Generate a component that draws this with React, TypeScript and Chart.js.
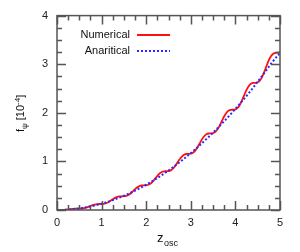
import React, { useEffect, useRef } from "react";
import { Chart, registerables } from "chart.js";

Chart.register(...registerables);

const zNum = [
  0, 0.05, 0.1, 0.15, 0.2, 0.25, 0.3, 0.35, 0.4, 0.45, 0.5, 0.55, 0.6, 0.65, 0.7, 0.75, 0.8, 0.85, 0.9, 0.95,
  1.0, 1.05, 1.1, 1.15, 1.2, 1.25, 1.3, 1.35, 1.4, 1.45, 1.5, 1.55, 1.6, 1.65, 1.7, 1.75, 1.8, 1.85, 1.9, 1.95,
  2.0, 2.05, 2.1, 2.15, 2.2, 2.25, 2.3, 2.35, 2.4, 2.45, 2.5, 2.55, 2.6, 2.65, 2.7, 2.75, 2.8, 2.85, 2.9, 2.95,
  3.0, 3.05, 3.1, 3.15, 3.2, 3.25, 3.3, 3.35, 3.4, 3.45, 3.5, 3.55, 3.6, 3.65, 3.7, 3.75, 3.8, 3.85, 3.9, 3.95,
  4.0, 4.05, 4.1, 4.15, 4.2, 4.25, 4.3, 4.35, 4.4, 4.45, 4.5, 4.55, 4.6, 4.65, 4.7, 4.75, 4.8, 4.85, 4.9, 4.95,
  5.0,
];
const numerical = [
  0, 0, 0.001, 0.002, 0.005, 0.01, 0.017, 0.023, 0.027, 0.029, 0.029, 0.03, 0.036, 0.047, 0.063, 0.082, 0.1, 0.113, 0.121, 0.123,
  0.123, 0.127, 0.139, 0.16, 0.189, 0.221, 0.25, 0.27, 0.28, 0.282, 0.284, 0.291, 0.309, 0.341, 0.383, 0.428, 0.466, 0.492, 0.505, 0.507,
  0.509, 0.52, 0.547, 0.59, 0.645, 0.702, 0.75, 0.781, 0.795, 0.798, 0.801, 0.816, 0.851, 0.906, 0.975, 1.044, 1.1, 1.136, 1.152, 1.154,
  1.159, 1.179, 1.222, 1.29, 1.372, 1.453, 1.517, 1.557, 1.574, 1.576, 1.582, 1.607, 1.661, 1.741, 1.837, 1.929, 2.001, 2.045, 2.061, 2.064,
  2.072, 2.103, 2.167, 2.26, 2.369, 2.472, 2.552, 2.598, 2.614, 2.617, 2.628, 2.666, 2.74, 2.847, 2.969, 3.083, 3.168, 3.217, 3.233, 3.236,
  3.249,
];

const zAna = [
  0, 0.1, 0.2, 0.3, 0.4, 0.5, 0.6, 0.7, 0.8, 0.9, 1.0, 1.1, 1.2, 1.3, 1.4, 1.5, 1.6, 1.7, 1.8, 1.9,
  2.0, 2.1, 2.2, 2.3, 2.4, 2.5, 2.6, 2.7, 2.8, 2.9, 3.0, 3.1, 3.2, 3.3, 3.4, 3.5, 3.6, 3.7, 3.8, 3.9,
  4.0, 4.1, 4.2, 4.3, 4.4, 4.5, 4.6, 4.7, 4.8, 4.9, 5.0,
];
const analytical = [
  0, 0.001, 0.005, 0.012, 0.021, 0.033, 0.047, 0.064, 0.083, 0.105, 0.13, 0.157, 0.187, 0.22, 0.255, 0.293, 0.333, 0.376, 0.421, 0.469,
  0.52, 0.573, 0.629, 0.688, 0.749, 0.813, 0.879, 0.948, 1.019, 1.093, 1.17, 1.249, 1.331, 1.416, 1.503, 1.593, 1.685, 1.78, 1.877, 1.977,
  2.08, 2.185, 2.293, 2.404, 2.52, 2.64, 2.76, 2.885, 3.01, 3.125, 3.225,
];

const xMajor = [0, 1, 2, 3, 4, 5];
const xMinor = [0.25, 0.5, 0.75, 1.25, 1.5, 1.75, 2.25, 2.5, 2.75, 3.25, 3.5, 3.75, 4.25, 4.5, 4.75];
const yMajor = [0, 1, 2, 3, 4];
const yMinor = [0.25, 0.5, 0.75, 1.25, 1.5, 1.75, 2.25, 2.5, 2.75, 3.25, 3.5, 3.75];

const legendLabels = ["Numerical", "Anaritical"];

const RED = "#ff1010";
const BLUE = "#2a2aff";
const FONT = "Liberation Sans, Arial, sans-serif";

const framePlugin = {
  id: "frameTicks",
  afterDatasetsDraw(chart: any) {
    const { ctx, chartArea, scales } = chart;
    const { left, right, top, bottom } = chartArea;
    const x = scales.x;
    const y = scales.y;
    ctx.save();
    ctx.strokeStyle = "#555";
    ctx.lineWidth = 1.5;
    ctx.strokeRect(left, top, right - left, bottom - top);
    const drawX = (v: number, len: number) => {
      const px = Math.round(x.getPixelForValue(v)) + 0.5;
      ctx.beginPath();
      ctx.moveTo(px, bottom);
      ctx.lineTo(px, bottom - len);
      ctx.moveTo(px, top);
      ctx.lineTo(px, top + len);
      ctx.stroke();
    };
    const drawY = (v: number, len: number) => {
      const py = Math.round(y.getPixelForValue(v)) + 0.5;
      ctx.beginPath();
      ctx.moveTo(left, py);
      ctx.lineTo(left + len, py);
      ctx.moveTo(right, py);
      ctx.lineTo(right - len, py);
      ctx.stroke();
    };
    xMajor.forEach((v) => drawX(v, 9));
    xMinor.forEach((v) => drawX(v, 5));
    yMajor.forEach((v) => drawY(v, 9));
    yMinor.forEach((v) => drawY(v, 5));

    // legend
    ctx.font = `11px ${FONT}`;
    ctx.fillStyle = "#111";
    ctx.textAlign = "right";
    ctx.textBaseline = "middle";
    ctx.fillText(legendLabels[0], 130, 35);
    ctx.fillText(legendLabels[1], 130, 51);
    ctx.strokeStyle = RED;
    ctx.lineWidth = 1.8;
    ctx.beginPath();
    ctx.moveTo(137, 35);
    ctx.lineTo(170, 35);
    ctx.stroke();
    ctx.strokeStyle = BLUE;
    ctx.lineWidth = 2;
    ctx.setLineDash([2, 2]);
    ctx.beginPath();
    ctx.moveTo(137, 51);
    ctx.lineTo(170, 51);
    ctx.stroke();
    ctx.setLineDash([]);

    // x title z_osc
    ctx.textAlign = "left";
    ctx.textBaseline = "alphabetic";
    ctx.fillStyle = "#111";
    ctx.font = `13px ${FONT}`;
    ctx.fillText("z", 157, 242);
    ctx.font = `9px ${FONT}`;
    ctx.fillText("osc", 164, 246);

    // y title f_psi [10^-4]
    ctx.save();
    ctx.translate(24, 132);
    ctx.rotate(-Math.PI / 2);
    let cx = 0;
    ctx.font = `11px ${FONT}`;
    ctx.fillText("f", cx, 0);
    cx += ctx.measureText("f").width;
    ctx.font = `8px ${FONT}`;
    ctx.fillText("ψ", cx, 3);
    cx += ctx.measureText("ψ").width;
    ctx.font = `11px ${FONT}`;
    ctx.fillText(" [10", cx, 0);
    cx += ctx.measureText(" [10").width;
    ctx.font = `8px ${FONT}`;
    ctx.fillText("-4", cx, -4);
    cx += ctx.measureText("-4").width;
    ctx.font = `11px ${FONT}`;
    ctx.fillText("]", cx, 0);
    ctx.restore();

    ctx.restore();
  },
};

export default function App() {
  const ref = useRef<HTMLCanvasElement | null>(null);
  useEffect(() => {
    if (!ref.current) return;
    const chart = new Chart(ref.current, {
      type: "line",
      data: {
        datasets: [
          {
            label: legendLabels[1],
            data: zAna.map((z, i) => ({ x: z, y: analytical[i] })),
            borderColor: BLUE,
            borderWidth: 2,
            borderDash: [2, 2],
            pointRadius: 0,
            fill: false,
            cubicInterpolationMode: "monotone",
            order: 0,
          },
          {
            label: legendLabels[0],
            data: zNum.map((z, i) => ({ x: z, y: numerical[i] })),
            borderColor: RED,
            borderWidth: 1.8,
            pointRadius: 0,
            fill: false,
            cubicInterpolationMode: "monotone",
            order: 1,
          },
        ],
      },
      options: {
        animation: false,
        responsive: false,
        maintainAspectRatio: false,
        layout: { padding: { left: 0, top: 13, right: 20, bottom: 0 } },
        plugins: { legend: { display: false }, tooltip: { enabled: false } },
        scales: {
          x: {
            type: "linear",
            min: 0,
            max: 5,
            grid: { display: false, drawTicks: false },
            border: { display: false },
            ticks: { stepSize: 1, padding: 6, color: "#222", font: { family: FONT, size: 11 } },
            afterFit: (s: any) => {
              s.height = 42;
            },
          },
          y: {
            type: "linear",
            min: 0,
            max: 4,
            grid: { display: false, drawTicks: false },
            border: { display: false },
            ticks: { stepSize: 1, padding: 9, color: "#222", font: { family: FONT, size: 11 } },
            afterFit: (s: any) => {
              s.width = 57;
            },
          },
        },
      },
      plugins: [framePlugin],
    });
    return () => chart.destroy();
  }, []);
  return (
    <div style={{ position: "fixed", left: 0, top: 0, width: 300, height: 252, background: "#fff" }}>
      <canvas ref={ref} width={300} height={252} style={{ width: 300, height: 252 }} />
    </div>
  );
}
